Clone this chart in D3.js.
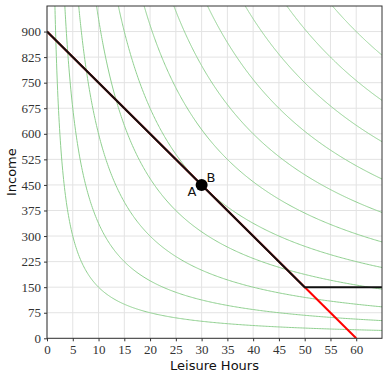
<!DOCTYPE html>
<html>
<head>
<meta charset="utf-8">
<script src="https://cdn.jsdelivr.net/npm/d3@7"></script>
<style>
  body { margin: 0; background: #fff; }
  .tick text { font-family: "Liberation Serif", serif; font-size: 13px; fill: #333; }
  .axis-label { font-family: "DejaVu Sans", sans-serif; font-size: 13px; fill: #111; }
  .pt-label { font-family: "DejaVu Sans", sans-serif; font-size: 13px; fill: #111; }
</style>
</head>
<body>
<svg id="chart" width="387" height="378"></svg>
<script>
// chart data
const xTicks = [0, 5, 10, 15, 20, 25, 30, 35, 40, 45, 50, 55, 60];
const yTicks = [0, 75, 150, 225, 300, 375, 450, 525, 600, 675, 750, 825, 900];
const budgetLine = [[0, 900], [60, 0]];
const newBudget = [[0, 900], [50, 150], [65, 150]];
const optimum = [30, 450];
// indifference curve levels: income * leisure = k
const curveLevels = [1500, 3375, 6000, 9375, 13500, 18375, 24000, 30375, 37500, 45375, 54000, 63375];

const margin = {top: 6, right: 5, bottom: 40, left: 47};
const width = 387, height = 378;

const svg = d3.select('#chart');

const x = d3.scaleLinear().domain([0, 65]).range([margin.left, width - margin.right]);
const y = d3.scaleLinear().domain([0, 975]).range([338.3, margin.top]);

svg.append('defs').append('clipPath').attr('id', 'clip')
  .append('rect')
  .attr('x', x(0)).attr('y', y(975))
  .attr('width', x(65) - x(0)).attr('height', y(0) - y(975));

// grid
svg.append('g').selectAll('line').data(xTicks).join('line')
  .attr('x1', d => x(d)).attr('x2', d => x(d))
  .attr('y1', y(0)).attr('y2', y(975))
  .attr('stroke', '#e3e3e3').attr('stroke-width', 1);
svg.append('g').selectAll('line').data(yTicks).join('line')
  .attr('x1', x(0)).attr('x2', x(65))
  .attr('y1', d => y(d)).attr('y2', d => y(d))
  .attr('stroke', '#e3e3e3').attr('stroke-width', 1);

let plot = svg.append('g').attr('clip-path', 'url(#clip)');

// indifference curves
let line = d3.line().x(d => x(d[0])).y(d => y(d[1]));
curveLevels.forEach(k => {
  let x0 = k / 975;
  let pts = d3.range(0, 301).map(i => {
    let xv = x0 + (65 - x0) * Math.pow(i / 300, 1.6);
    return [xv, k / xv];
  });
  plot.append('path')
    .attr('d', line(pts))
    .attr('fill', 'none')
    .attr('stroke', '#8fcf8f')
    .attr('stroke-width', 1);
});

plot.append('path')
  .attr('d', line(budgetLine))
  .attr('fill', 'none')
  .attr('stroke', '#ff0000')
  .attr('stroke-width', 2);

plot.append('path')
  .attr('d', line(newBudget))
  .attr('fill', 'none')
  .attr('stroke', '#111')
  .attr('stroke-width', 2);

svg.append('circle')
  .attr('cx', x(optimum[0])).attr('cy', y(optimum[1]))
  .attr('r', 6).attr('fill', '#000');

svg.append('text').attr('class', 'pt-label')
  .attr('x', x(optimum[0]) - 14).attr('y', y(optimum[1]) + 11)
  .text('A');
svg.append('text').attr('class', 'pt-label')
  .attr('x', x(optimum[0]) + 5).attr('y', y(optimum[1]) - 3)
  .text('B');

// axes
let xAxis = svg.append('g')
  .attr('transform', `translate(0,${y(0)})`)
  .call(d3.axisBottom(x).tickValues(xTicks).tickSize(3).tickPadding(3));
let yAxis = svg.append('g')
  .attr('transform', `translate(${x(0)},0)`)
  .call(d3.axisLeft(y).tickValues(yTicks).tickSize(3).tickPadding(3));
[xAxis, yAxis].forEach(a => {
  a.select('.domain').remove();
  a.selectAll('.tick line').attr('stroke', '#333');
});

// frame
svg.append('rect')
  .attr('x', x(0)).attr('y', y(975))
  .attr('width', x(65) - x(0)).attr('height', y(0) - y(975))
  .attr('fill', 'none').attr('stroke', '#333').attr('stroke-width', 1);

svg.append('text').attr('class', 'axis-label')
  .attr('x', (x(0) + x(65)) / 2).attr('y', 370)
  .attr('text-anchor', 'middle')
  .text('Leisure Hours');

svg.append('text').attr('class', 'axis-label')
  .attr('transform', `translate(16,${(y(0) + y(975)) / 2}) rotate(-90)`)
  .attr('text-anchor', 'middle')
  .text('Income');
</script>
</body>
</html>
